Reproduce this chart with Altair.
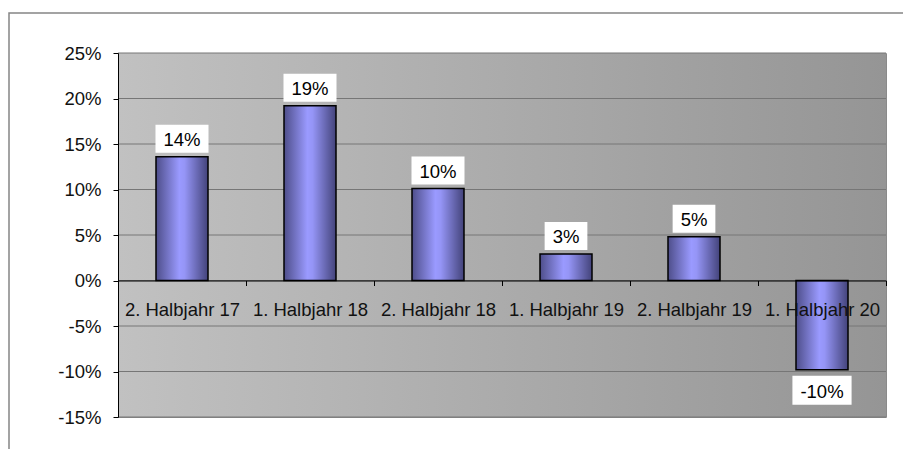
import altair as alt
import pandas as pd

categories = ["2. Halbjahr 17", "1. Halbjahr 18", "2. Halbjahr 18",
              "1. Halbjahr 19", "2. Halbjahr 19", "1. Halbjahr 20"]
values = [0.136, 0.192, 0.101, 0.029, 0.048, -0.098]
y_ticks = [-0.15, -0.10, -0.05, 0.0, 0.05, 0.10, 0.15, 0.20, 0.25]

FONT = "Liberation Sans"
FS = 18.5

# approximate Arial advance widths (em) for sizing label boxes
_cw = {"%": 0.889, "-": 0.333}
def box_w(s):
    return sum(_cw.get(c, 0.556) for c in s) * FS + 16

labels = [f"{round(v * 100):.0f}%" for v in values]
df = pd.DataFrame({"cat": categories, "val": values, "lab": labels,
                   "bw": [box_w(s) for s in labels]})
grid_df = pd.DataFrame({"t": y_ticks})
one = pd.DataFrame({"a": [0]})

W, H = 768, 364
yscale = alt.Scale(domain=[-0.15, 0.25], nice=False, zero=False)
xscale = alt.Scale(paddingInner=0, paddingOuter=0)

x_axis = alt.Axis(orient="bottom", offset=-136.5, title=None, labelAngle=0,
                  tickBand="extent", domainColor="black", domainWidth=1,
                  tickColor="black", tickSize=5, labelFontSize=FS,
                  labelFont=FONT, labelColor="#111111", labelPadding=15,
                  labelOverlap=False, grid=False, zindex=1)
y_axis = alt.Axis(orient="left", title=None, values=y_ticks, grid=False,
                  labelExpr="round(datum.value*100) + '%'",
                  domainColor="black", domainWidth=1, tickColor="black",
                  tickSize=5, labelPadding=12, labelFontSize=FS,
                  labelFont=FONT, labelColor="#111111", zindex=1)

bg_grad = alt.LinearGradient(gradient="linear", x1=0, x2=1, y1=0, y2=0,
                             stops=[alt.GradientStop(offset=0, color="#c1c1c1"),
                                    alt.GradientStop(offset=1, color="#959595")])
bar_grad = alt.LinearGradient(gradient="linear", x1=0, x2=1, y1=0, y2=0,
                              stops=[alt.GradientStop(offset=0, color="#4e4e8a"),
                                     alt.GradientStop(offset=0.45, color="#9a9aff"),
                                     alt.GradientStop(offset=0.55, color="#9595f6"),
                                     alt.GradientStop(offset=1, color="#43437a")])

bg = alt.Chart(one).mark_rect(fill=bg_grad).encode(
    x=alt.value(0), x2=alt.value("width"), y=alt.value(0), y2=alt.value("height"))

grid = alt.Chart(grid_df).mark_rule(color="#767676", strokeWidth=1).encode(
    y=alt.Y("t:Q", scale=yscale, axis=y_axis))

X = alt.X("cat:N", sort=categories, scale=xscale, axis=x_axis)

bars = alt.Chart(df).mark_bar(size=52, fill=bar_grad, stroke="black",
                              strokeWidth=1.5).encode(
    x=X, y=alt.Y("val:Q", scale=yscale, axis=y_axis), y2=alt.datum(0))

pos = df[df.val >= 0]
neg = df[df.val < 0]

box_pos = alt.Chart(pos).mark_bar(color="white", yOffset=-4, y2Offset=-32).encode(
    x=X, y=alt.Y("val:Q", scale=yscale), y2=alt.Y2("val:Q"),
    size=alt.Size("bw:Q", scale=None, legend=None))
box_neg = alt.Chart(neg).mark_bar(color="white", yOffset=6, y2Offset=35).encode(
    x=X, y=alt.Y("val:Q", scale=yscale), y2=alt.Y2("val:Q"),
    size=alt.Size("bw:Q", scale=None, legend=None))

txt_pos = alt.Chart(pos).mark_text(font=FONT, fontSize=FS, color="black",
                                   baseline="middle", yOffset=-17).encode(
    x=X, y=alt.Y("val:Q", scale=yscale), text="lab:N")
txt_neg = alt.Chart(neg).mark_text(font=FONT, fontSize=FS, color="black",
                                   baseline="middle", yOffset=22).encode(
    x=X, y=alt.Y("val:Q", scale=yscale), text="lab:N")

border = alt.Chart(one).mark_rect(fill="transparent", stroke="#858585",
                                  strokeWidth=1.5).encode(
    x=alt.value(-109), x2=alt.value(1100), y=alt.value(-40), y2=alt.value(600))

chart = alt.layer(bg, grid, bars, box_pos, box_neg, txt_pos, txt_neg, border).properties(
    width=W, height=H,
    autosize=alt.AutoSizeParams(type="none"),
    padding={"left": 118, "top": 53, "right": 17, "bottom": 32},
    background="white",
).configure_view(stroke="#8a8a8a", strokeWidth=1)

chart.save("out.html", embed_options={"renderer": "svg", "actions": False})
